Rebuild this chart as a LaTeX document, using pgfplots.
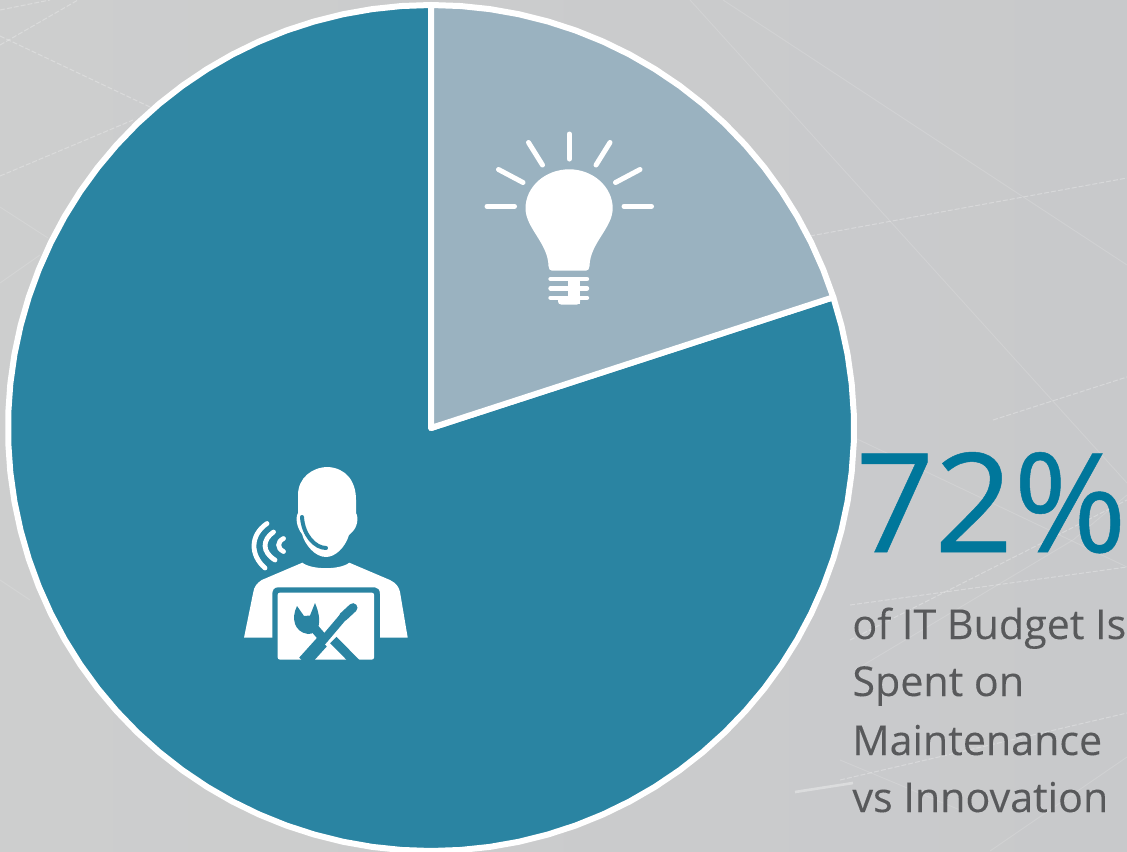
\documentclass[border=0pt]{standalone}
\usepackage{fontspec}
\setmainfont{Open Sans}
\newfontfamily\pctfont[FakeBold=0.35]{Open Sans}
\newfontfamily\bodyfont[FakeBold=0.12]{Open Sans}
\usepackage{pgfplots}
\pgfplotsset{compat=1.18}
\definecolor{bgl}{HTML}{CDCECE}
\definecolor{bgr}{HTML}{C8C9CB}
\definecolor{pied}{HTML}{2A84A2}
\definecolor{piel}{HTML}{9AB2C0}
\definecolor{pct}{HTML}{00779B}
\definecolor{txt}{HTML}{58595B}
% 1 image pixel = 0.5pt
\pgfplotsset{
  page/.style={hide axis, scale only axis, width=563.5pt, height=425.5pt, at={(0,0)}, anchor=south west},
  px/.style={page, xmin=0, xmax=1127, ymin=0, ymax=851, y dir=reverse},
}
\tikzset{
  bgline/.style={white, opacity=0.15, line width=0.45pt},
  bgdash/.style={white, opacity=0.28, line width=0.5pt, dash pattern=on 2.5pt off 1pt},
  ray/.style={white, line width=2.5pt, line cap=round},
  bar/.style={white, line width=2.2pt, line cap=round},
}
\begin{document}
\begin{tikzpicture}
% background and its faint lines
\begin{axis}[px]
  \shade[left color=bgl, right color=bgr] (0,0) rectangle (1127,851);
  \draw[bgline] (690,0) -- (1127,483);
  \draw[bgline] (723,0) -- (1127,265);
  \draw[bgline] (0,207) -- (48,238);
  \draw[bgline] (0,283) -- (40,255);
  \draw[bgline] (855,438) -- (1127,567);
  \draw[bgline] (0,580) -- (30,600);
  \draw[bgline] (840,760) -- (960,810);
  \draw[bgline] (855,670) -- (1073,540) -- (1127,495);
  \draw[bgline] (990,851) -- (1127,757);
  \draw[bgdash] (0,10) -- (50,0);
  \draw[bgdash] (0,45) -- (78,0);
  \draw[bgdash] (0,36) -- (150,107);
  \draw[bgdash] (0,176) -- (133,120);
  \draw[bgdash] (810,236) -- (1127,178);
  \draw[bgdash] (993,420) -- (1127,377);
  \draw[bgdash] (850,605) -- (1127,567);
  \draw[bgdash] (850,640) -- (1127,500);
  \draw[bgdash] (840,780) -- (1127,713);
\end{axis}
% the pie: 20 % innovation, 80 % maintenance
\begin{axis}[page, xmin=-431, xmax=696, ymin=-423, ymax=428]
  \addplot[data cs=polar, draw=white, line width=3pt, fill=pied, line join=round] coordinates {
    (0,0) (18,423) (14,423) (10,423) (6,423) (2,423) (-2,423) (-6,423) (-10,423)
    (-14,423) (-18,423) (-22,423) (-26,423) (-30,423) (-34,423) (-38,423) (-42,423)
    (-46,423) (-50,423) (-54,423) (-58,423) (-62,423) (-66,423) (-70,423) (-74,423)
    (-78,423) (-82,423) (-86,423) (-90,423) (-94,423) (-98,423) (-102,423) (-106,423)
    (-110,423) (-114,423) (-118,423) (-122,423) (-126,423) (-130,423) (-134,423) (-138,423)
    (-142,423) (-146,423) (-150,423) (-154,423) (-158,423) (-162,423) (-166,423) (-170,423)
    (-174,423) (-178,423) (-182,423) (-186,423) (-190,423) (-194,423) (-198,423) (-202,423)
    (-206,423) (-210,423) (-214,423) (-218,423) (-222,423) (-226,423) (-230,423) (-234,423)
    (-238,423) (-242,423) (-246,423) (-250,423) (-254,423) (-258,423) (-262,423) (-266,423)
    (-270,423)
  } -- cycle;
  \addplot[data cs=polar, draw=white, line width=3pt, fill=piel, line join=round] coordinates {
    (0,0) (90,423) (86,423) (82,423) (78,423) (74,423) (70,423) (66,423) (62,423)
    (58,423) (54,423) (50,423) (46,423) (42,423) (38,423) (34,423) (30,423)
    (26,423) (22,423) (18,423)
  } -- cycle;
\end{axis}
% icons and text, in image pixels
\begin{axis}[px]
  % streak over the background
  \draw[white, opacity=0.35, line width=1.3pt] (795,792) -- (853,783);
  % bulb
  \draw[ray] (569.3,134) -- (569.3,159);
  \draw[ray] (528.5,142.5) -- (542.5,165);
  \draw[ray] (610,142.5) -- (596,165);
  \draw[ray] (498.5,169.5) -- (523,182.5);
  \draw[ray] (640,169.5) -- (615.5,182.5);
  \draw[ray] (487,206.3) -- (514.5,206.3);
  \draw[ray] (624,206.3) -- (651.5,206.3);
  \fill[white] (569.3,169.3) .. controls (593,169.3) and (612.7,187) .. (612.7,208.3)
    .. controls (612.7,228) and (590,243) .. (589.5,266)
    .. controls (589.5,269) and (588,270.7) .. (586,270.7) -- (552,270.7)
    .. controls (550,270.7) and (548.5,269) .. (548.5,266)
    .. controls (548,243) and (525.5,228) .. (525.5,208.3)
    .. controls (525.5,187) and (545,169.3) .. (569.3,169.3) -- cycle;
  \draw[bar] (550.5,279) -- (587,279);
  \draw[bar] (550.5,288.3) -- (587,288.3);
  \draw[bar] (550.5,297.7) -- (587,297.7);
  \fill[white] (568,277) rectangle (580,304);
  \fill[white, rounded corners=1.5pt] (558,297) rectangle (580,304.5);
  % person: waves
  \draw[white, line width=2.4pt, line cap=round] (267,523.5) .. controls (250,535) and (250,555) .. (265,568);
  \draw[white, line width=2.4pt, line cap=round] (273.5,532) .. controls (262,540) and (262,552) .. (275,560);
  \draw[white, line width=2.4pt, line cap=round] (283.5,538.5) .. controls (277,542) and (277,548) .. (283.5,551.5);
  % head
  \fill[white] (328,467) .. controls (345,468) and (356,480) .. (356,500) -- (356,513)
    .. controls (359,518) and (357,528) .. (352,532) -- (349,535)
    .. controls (345,548) and (335,557) .. (326,557)
    .. controls (315,557) and (305,545) .. (302,534)
    .. controls (297,528) and (295,518) .. (298,513) -- (298,495)
    .. controls (298,478) and (312,467) .. (328,467) -- cycle;
  \draw[pied, line width=2pt, line cap=round] (302,517) .. controls (303,535) and (315,548) .. (326,548);
  % shoulders
  \fill[white] (302.3,562.7) .. controls (312,570) and (340,570) .. (349.3,562.7)
    -- (390,580) .. controls (396,583) and (399,587) .. (400,592) -- (407.7,637.7) -- (380,637.7)
    -- (380,594) .. controls (380,590) and (378,587.3) .. (375,587.3) -- (278,587.3)
    .. controls (274,587.3) and (272.3,590) .. (272.3,594) -- (272.3,637.7) -- (244,637.7)
    -- (253.3,592) .. controls (254,587) and (257,583) .. (261.7,580) -- cycle;
  % screen
  \fill[white, rounded corners=1pt] (277.7,592.7) rectangle (374,659.5);
  % screwdriver
  \draw[pied, line width=6.5pt] (304,662) -- (322,642);
  \draw[pied, line width=4pt] (321,643) -- (343.3,616.7);
  \draw[pied, line width=4.5pt, line cap=round] (343.3,616.7) -- (353,607.7);
  % wrench
  \draw[pied, line width=4.5pt] (309,622) -- (322,637);
  \draw[pied, line width=4.5pt] (333.3,640) -- (357,664);
  \fill[pied] (297,606) .. controls (291,618) and (294,632) .. (308,634)
    .. controls (319,634) and (323,622) .. (315,603)
    -- (310,615.5) -- (304,616) -- cycle;
  % text
  \node[anchor=base west, inner sep=0pt, text=pct, font=\fontsize{69}{70}\pctfont] at (855,552) {72\%};
  \node[anchor=base west, inner sep=0pt, text=txt, font=\fontsize{20.6}{24}\bodyfont] at (852,639) {of IT Budget Is};
  \node[anchor=base west, inner sep=0pt, text=txt, font=\fontsize{20.6}{24}\bodyfont] at (852,696) {Spent on};
  \node[anchor=base west, inner sep=0pt, text=txt, font=\fontsize{20.6}{24}\bodyfont] at (852,755) {Maintenance};
  \node[anchor=base west, inner sep=0pt, text=txt, font=\fontsize{20.6}{24}\bodyfont] at (852,812) {vs Innovation};
\end{axis}
\end{tikzpicture}
\end{document}
